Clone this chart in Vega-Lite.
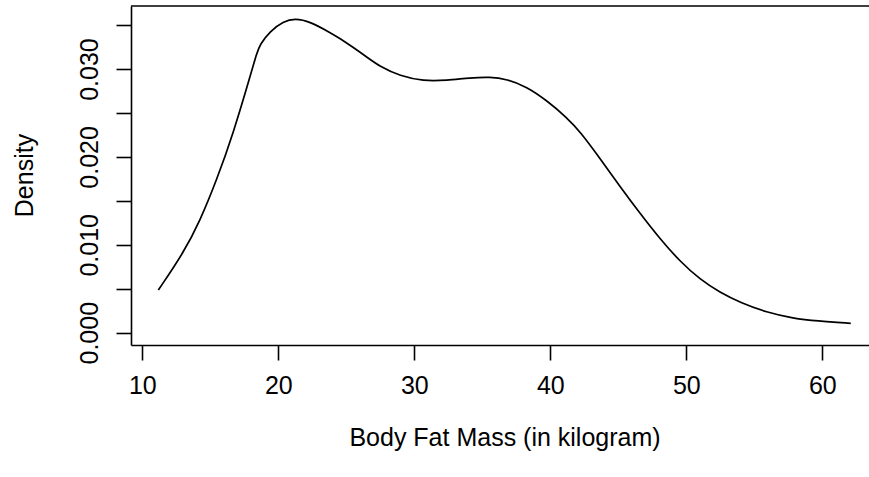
{
  "$schema": "https://vega.github.io/schema/vega-lite/v6.json",
  "autosize": {"type": "none"},
  "padding": {"left": 131, "top": 6, "right": 0, "bottom": 132},
  "width": 738,
  "height": 339,
  "background": "white",
  "config": {
    "view": {"stroke": null},
    "font": "Liberation Sans",
    "axis": {
      "grid": false,
      "domainColor": "black",
      "domainWidth": 1.6,
      "tickColor": "black",
      "tickWidth": 1.6,
      "tickSize": 15,
      "labelColor": "black",
      "titleColor": "black",
      "labelFont": "Liberation Sans",
      "titleFont": "Liberation Sans",
      "labelFontSize": 25,
      "titleFontSize": 25,
      "titleFontWeight": "normal"
    }
  },
  "datasets": {
    "density": [
      {"mass": 11.18, "density": 0.00486},
      {"mass": 13.01, "density": 0.00903},
      {"mass": 14.24, "density": 0.01271},
      {"mass": 15.47, "density": 0.01737},
      {"mass": 16.69, "density": 0.02269},
      {"mass": 17.92, "density": 0.02912},
      {"mass": 18.41, "density": 0.03179},
      {"mass": 18.65, "density": 0.03280},
      {"mass": 19.39, "density": 0.03430},
      {"mass": 20.37, "density": 0.03542},
      {"mass": 21.23, "density": 0.03576},
      {"mass": 22.33, "density": 0.03540},
      {"mass": 23.80, "density": 0.03415},
      {"mass": 24.54, "density": 0.03347},
      {"mass": 25.51, "density": 0.03245},
      {"mass": 26.50, "density": 0.03137},
      {"mass": 27.47, "density": 0.03028},
      {"mass": 28.95, "density": 0.02920},
      {"mass": 30.66, "density": 0.02863},
      {"mass": 32.38, "density": 0.02871},
      {"mass": 34.10, "density": 0.02900},
      {"mass": 35.57, "density": 0.02910},
      {"mass": 36.79, "density": 0.02886},
      {"mass": 38.26, "density": 0.02799},
      {"mass": 39.74, "density": 0.02642},
      {"mass": 41.21, "density": 0.02448},
      {"mass": 42.19, "density": 0.02289},
      {"mass": 43.66, "density": 0.01982},
      {"mass": 45.13, "density": 0.01661},
      {"mass": 46.60, "density": 0.01356},
      {"mass": 48.07, "density": 0.01066},
      {"mass": 49.54, "density": 0.00810},
      {"mass": 51.01, "density": 0.00605},
      {"mass": 52.48, "density": 0.00457},
      {"mass": 53.95, "density": 0.00344},
      {"mass": 55.91, "density": 0.00230},
      {"mass": 57.87, "density": 0.00163},
      {"mass": 59.59, "density": 0.00133},
      {"mass": 62.09, "density": 0.00107}
    ],
    "frame": [{"top": 0.03717}]
  },
  "layer": [
    {
      "data": {"name": "density"},
      "mark": {"type": "line", "color": "black", "strokeWidth": 1.7, "interpolate": "basis", "clip": true},
      "encoding": {
        "x": {
          "field": "mass",
          "type": "quantitative",
          "scale": {"domain": [9.17, 63.43], "nice": false, "zero": false},
          "axis": {
            "title": "Body Fat Mass (in kilogram)",
            "values": [10, 20, 30, 40, 50, 60],
            "format": "d",
            "labelBaseline": "alphabetic",
            "labelPadding": 33,
            "labelFlush": false,
            "labelOverlap": false,
            "titleBaseline": "alphabetic",
            "titleAlign": "center",
            "titleX": 373.5,
            "titleY": 100
          }
        },
        "y": {
          "field": "density",
          "type": "quantitative",
          "scale": {"domain": [-0.0014, 0.03717], "nice": false, "zero": false},
          "axis": {
            "title": "Density",
            "values": [0, 0.005, 0.01, 0.015, 0.02, 0.025, 0.03, 0.035],
            "labelExpr": "round(datum.value * 1000) % 10 == 0 ? format(datum.value, '.3f') : ''",
            "labelAngle": -90,
            "labelAlign": "center",
            "labelBaseline": "alphabetic",
            "labelPadding": 19,
            "labelFlush": false,
            "labelOverlap": false,
            "titleAngle": -90,
            "titleAlign": "center",
            "titleBaseline": "alphabetic",
            "titleX": -98.5,
            "titleY": 169
          }
        }
      }
    },
    {
      "data": {"name": "frame"},
      "mark": {"type": "rule", "color": "black", "strokeWidth": 1.6},
      "encoding": {
        "y": {"field": "top", "type": "quantitative"}
      }
    }
  ]
}
